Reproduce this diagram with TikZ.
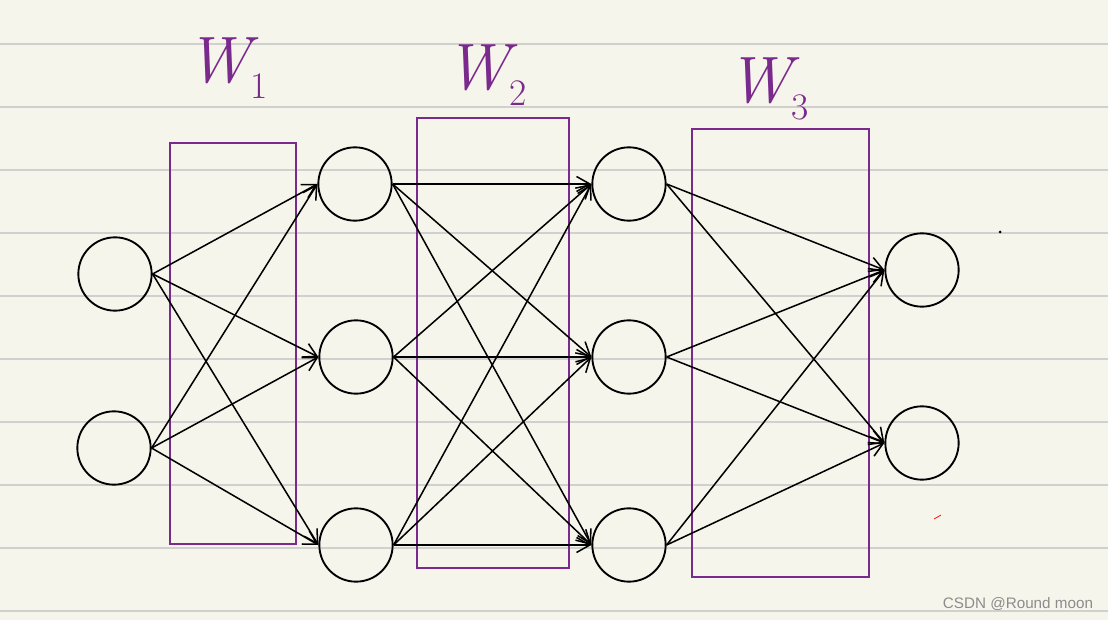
\documentclass[tikz,border=0pt]{standalone}
\usepackage{fontspec}
\newfontfamily\markfont{Liberation Sans}
\usetikzlibrary{arrows.meta}

\definecolor{paper}{RGB}{246,245,235}
\definecolor{rule}{RGB}{208,208,206}
\definecolor{pen}{RGB}{122,42,140}

\newcommand{\wsub}[1]{\raisebox{-0.25em}{\fontsize{32}{34}\selectfont\upshape #1}}

\begin{document}
\begin{tikzpicture}[x=0.03cm,y=-0.03cm,
  unit/.style={circle,draw,line width=1.6pt,minimum size=2.2cm,inner sep=0pt},
  link/.style={line width=1.3pt,-{Straight Barb[length=4mm,width=4.5mm]}},
  wbox/.style={draw=pen,line width=1.5pt},
  wlabel/.style={text=pen,font=\fontsize{56}{60}\selectfont\itshape}]

\useasboundingbox (0,0) rectangle (1108,620);
\fill[paper] (0,0) rectangle (1108,620);

% ruled paper
\foreach \y in {44,107,170,233,296,359,422,485,548,611}
  \draw[rule,line width=1.4pt] (0,\y) -- (1108,\y);

% weight boxes
\draw[wbox] (170,143) rectangle (296,544);
\draw[wbox] (417,118) rectangle (569,568);
\draw[wbox] (692,129) rectangle (869,577);

\node[wlabel] (labelA) at (227,68) {W\wsub{1}};
\node[wlabel] (labelB) at (486,75) {W\wsub{2}};
\node[wlabel] (labelC) at (768,89) {W\wsub{3}};

% units
\node[unit] (in1) at (115,274) {};
\node[unit] (in2) at (114,448) {};

\node[unit] (hA1) at (355,184) {};
\node[unit] (hA2) at (356,357) {};
\node[unit] (hA3) at (356,545) {};

\node[unit] (hB1) at (629,184) {};
\node[unit] (hB2) at (629,357) {};
\node[unit] (hB3) at (629,545) {};

\node[unit] (out1) at (922,270) {};
\node[unit] (out2) at (922,443) {};

% connections
\foreach \i in {1,2}
  \foreach \j in {1,2,3}
    \draw[link] (in\i.east) -- (hA\j.west);

\foreach \i in {1,2,3}
  \foreach \j in {1,2,3}
    \draw[link] (hA\i.east) -- (hB\j.west);

\foreach \i in {1,2,3}
  \foreach \j in {1,2}
    \draw[link] (hB\i.east) -- (out\j.west);

% stray marks
\fill (1000,232) circle (1.5);
\draw[red,line width=0.6pt] (934,519) -- (941,515);

\node[text=black!45,font=\markfont\fontsize{13}{15}\selectfont] (mark) at (1018,604) {CSDN @Round moon};

\end{tikzpicture}
\end{document}
